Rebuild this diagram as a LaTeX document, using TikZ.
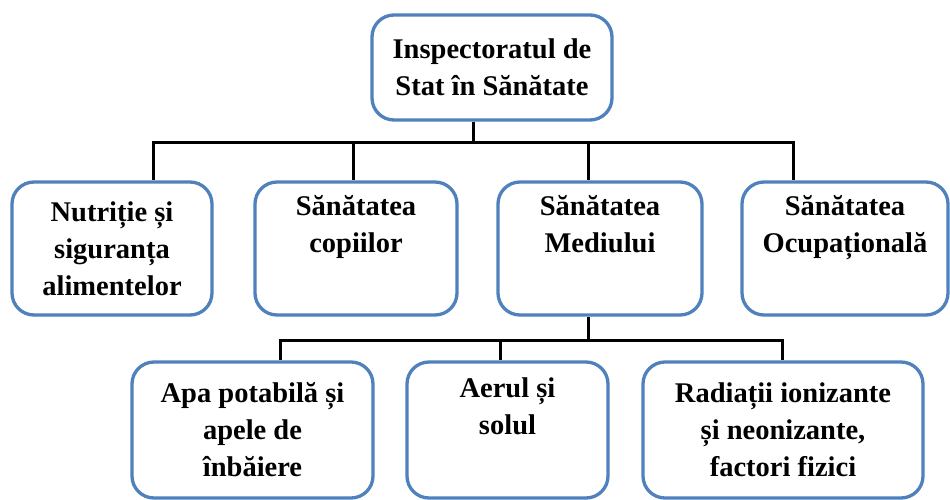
\documentclass[tikz,border=0pt]{standalone}
\usepackage{fontspec}
\setmainfont{Liberation Serif}
\definecolor{boxblue}{HTML}{4F81BD}
\begin{document}
\begin{tikzpicture}[x=1pt,y=-1pt,
  box/.style={draw=boxblue, line width=3.3pt, rounded corners=22pt, fill=white,
    align=center, inner sep=0pt, font=\fontsize{28.5}{37}\selectfont\bfseries},
  conn/.style={draw=black, line width=3pt}]
\useasboundingbox (0,0) rectangle (950,500);
\fill[white] (0,0) rectangle (950,500);
% boxes
\node[box, minimum width=240pt, minimum height=105pt] (top) at (492,67.5) {Inspectoratul de\\Stat în Sănătate};
\node[box, minimum width=200pt, minimum height=133pt] (b1) at (112,248.5) {Nutriție și\\siguranța\\alimentelor};
\node[box, minimum width=202pt, minimum height=133pt] (b2) at (356,248.5) {Sănătatea\\copiilor\\\strut};
\node[box, minimum width=204pt, minimum height=133pt] (b3) at (600,248.5) {Sănătatea\\Mediului\\\strut};
\node[box, minimum width=206pt, minimum height=133pt] (b4) at (845,248.5) {Sănătatea\\Ocupațională\\\strut};
\node[box, minimum width=241pt, minimum height=136pt] (b5) at (252.5,430) {Apa potabilă și\\apele de\\înbăiere};
\node[box, minimum width=201pt, minimum height=136pt] (b6) at (507.5,430) {Aerul și\\solul\\\strut};
\node[box, minimum width=280pt, minimum height=136pt] (b7) at (783,430) {Radiații ionizante\\și neonizante,\\factori fizici};
% buses
\coordinate (busA) at (473,143);
\coordinate (busB) at (588,340);
% connectors level 1
\draw[conn] ([xshift=-19pt]top.south) -- (busA);
\draw[conn] (busA) -| ([xshift=41pt]b1.north);
\draw[conn] (busA) -| ([xshift=-3pt]b2.north);
\draw[conn] (busA) -| ([xshift=-12pt]b3.north);
\draw[conn] (busA) -| ([xshift=-52pt]b4.north);
% connectors level 2
\draw[conn] ([xshift=-12pt]b3.south) -- (busB);
\draw[conn] (busB) -| ([xshift=27.5pt]b5.north);
\draw[conn] (busB) -| ([xshift=-7.5pt]b6.north);
\draw[conn] (busB) -| ([xshift=-1pt]b7.north);
\end{tikzpicture}
\end{document}
